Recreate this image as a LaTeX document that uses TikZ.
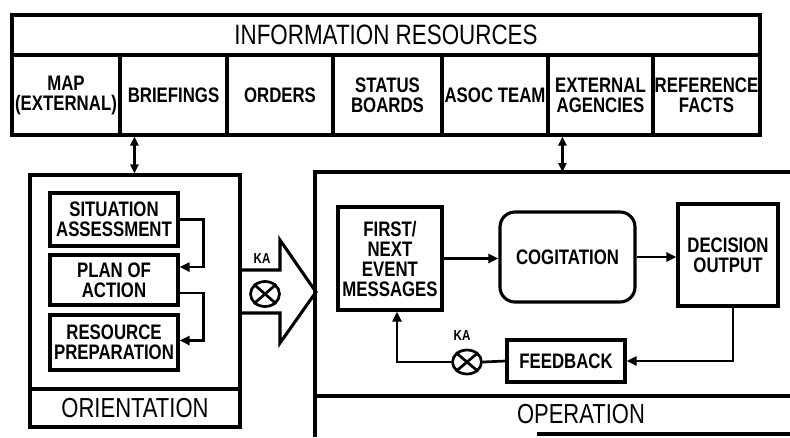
\documentclass[tikz,border=0pt]{standalone}
\usepackage{fontspec}
\setmainfont[FakeStretch=0.8]{Liberation Sans}
\usetikzlibrary{arrows.meta,shapes.geometric,calc}

\newcommand\lblfont{\bfseries\fontsize{21}{20}\selectfont}
\newcommand\ttlfont{\fontsize{28}{30}\selectfont}
\newcommand\bigfont{\fontsize{27.5}{30}\selectfont}
\newcommand\kafont{\bfseries\fontsize{14.5}{15}\selectfont}

\tikzset{
  box/.style={draw, line width=3.1pt, inner sep=0pt, align=center, font=\lblfont},
  cell/.style={box, minimum height=80pt},
  inbox/.style={box, minimum width=128pt},
  conn/.style={line width=2.7pt, -{Triangle[length=10pt,width=9pt]}},
  plain/.style={line width=2.7pt},
  dbl/.style={line width=2.7pt, {Triangle[length=9pt,width=8pt]}-{Triangle[length=9pt,width=8pt]}},
  frame/.style={line width=3.1pt},
  junction/.style={draw, ellipse, line width=2.7pt, inner sep=0pt},
  kalbl/.style={font=\kafont, inner sep=0pt},
}

\begin{document}
\begin{tikzpicture}[x=1pt, y=-1pt]
\useasboundingbox (0,0) rectangle (790,437);

% information resources panel
\node[box, font=\ttlfont, minimum width=748pt, minimum height=40pt] (res) at (386,35) {INFORMATION RESOURCES};
\node[cell, minimum width=108pt] (map)  at (66,95)    {MAP\\(EXTERNAL)};
\node[cell, minimum width=107pt] (brf)  at (173.5,95) {BRIEFINGS};
\node[cell, minimum width=106pt] (ord)  at (280,95)   {ORDERS};
\node[cell, minimum width=109pt] (stb)  at (387.5,95) {STATUS\\BOARDS};
\node[cell, minimum width=106pt] (asoc) at (495,95)   {ASOC TEAM};
\node[cell, minimum width=105pt] (ext)  at (600.5,95) {EXTERNAL\\AGENCIES};
\node[cell, minimum width=107pt] (ref)  at (706.5,95) {REFERENCE\\FACTS};

% orientation block
\node[box, minimum width=210pt, minimum height=214pt] (orient) at (135,282) {};
\node[box, font=\bigfont, minimum width=210pt, minimum height=38pt] (orientlbl) at (135,408) {ORIENTATION};
\node[inbox, minimum height=53pt] (sa)  at (114,219.5) {SITUATION\\ASSESSMENT};
\node[inbox, minimum height=50pt] (poa) at (114,280)   {PLAN OF\\ACTION};
\node[inbox, minimum height=55pt] (rp)  at (114,342.5) {RESOURCE\\PREPARATION};

\draw[conn] (sa.east) -- ++(24,0) |- ([yshift=13pt]poa.east);
\draw[conn] ([yshift=-13pt]poa.east) -- ++(24,0) |- ([yshift=2pt]rp.east);

% operation block (open to the right)
\coordinate (optl) at (315,172);
\draw[frame] (790,172) -- (optl) -- (315,437);
\draw[frame] (315,396) -- (790,396);
\draw[frame] (537,434) -- (790,434);
\node[font=\bigfont, inner sep=0pt] (oplbl) at (581,414) {OPERATION};

% hand-over arrow with knowledge-acquisition junction
\draw[frame, line join=miter] (240,270) -- (280,270) -- (280,240) -- (316,292)
  -- (280,343) -- (280,313) -- (240,313);
\node[kalbl] (ka1lbl) at (262,259) {KA};
\node[junction, minimum width=29pt, minimum height=25pt] (ka1) at (265,294) {};
\draw[plain] (ka1.north west) -- (ka1.south east) (ka1.north east) -- (ka1.south west);

% links to the information resources
\coordinate (la) at ([xshift=16pt]brf.south west);
\draw[dbl] (la) -- (la |- orient.north);
\coordinate (ra) at ([xshift=16pt]ext.south west);
\draw[dbl] (ra) -- (ra |- optl);

% operation loop
\node[box, minimum width=104pt, minimum height=103pt] (fnem) at (390,258.5) {FIRST/\\NEXT\\EVENT\\MESSAGES};
\node[box, rounded corners=15pt, minimum width=135pt, minimum height=90pt] (cog) at (567.5,257) {COGITATION};
\node[box, minimum width=100pt, minimum height=102pt] (dec) at (728,255) {DECISION\\OUTPUT};
\node[box, minimum width=118pt, minimum height=42pt] (fb) at (566,361) {FEEDBACK};
\node[junction, minimum width=29pt, minimum height=24pt] (ka2) at (467,362) {};
\draw[plain] (ka2.north west) -- (ka2.south east) (ka2.north east) -- (ka2.south west);
\node[kalbl] (ka2lbl) at (462,336) {KA};

\draw[conn] (fnem.east) -- (fnem.east -| cog.west);
\draw[conn] (cog.east) -- (cog.east -| dec.west);
\draw[conn] ([xshift=5pt]dec.south) |- (fb.east);
\draw[plain] (fb.west) -- (ka2.east);
\draw[conn] (ka2.west) -| ([xshift=7pt]fnem.south);
\end{tikzpicture}
\end{document}
